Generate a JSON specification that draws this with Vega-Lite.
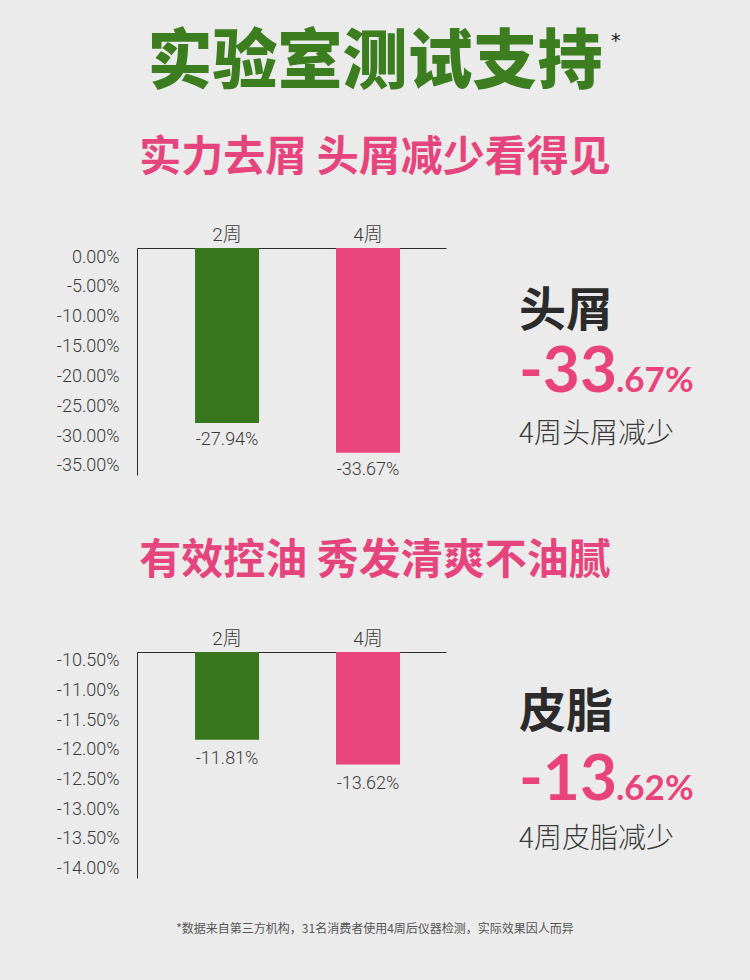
{
  "$schema": "https://vega.github.io/schema/vega-lite/v6.json",
  "background": "#ebebeb",
  "padding": 0,
  "spacing": 0,
  "config": {"view": {"stroke": null}, "axis": {"grid": false}},
  "datasets": {
    "dandruff": [
      {"week": "2周", "drawn": -0.2782, "reported": -0.2794},
      {"week": "4周", "drawn": -0.3280, "reported": -0.3367}
    ],
    "sebum": [
      {"week": "2周", "drawn": -0.1183, "reported": -0.1181},
      {"week": "4周", "drawn": -0.1225, "reported": -0.1362}
    ]
  },
  "vconcat": [
    {
      "width": 613, "height": 126,
      "data": {"values": [{"headline": "实验室测试支持", "star": "*"}]},
      "layer": [
        {"mark": {"type": "text", "font": "Noto Sans CJK SC", "fontWeight": 900, "fontSize": 65, "color": "#3b7d1f", "align": "center", "baseline": "middle"},
         "encoding": {"text": {"field": "headline"},
           "x": {"datum": 0.3883, "type": "quantitative", "scale": {"domain": [0, 1]}, "axis": null}}},
        {"mark": {"type": "text", "font": "DejaVu Sans", "fontSize": 20, "color": "#222222", "align": "center", "baseline": "middle", "dy": -22},
         "encoding": {"text": {"field": "star"},
           "x": {"datum": 0.781, "type": "quantitative", "scale": {"domain": [0, 1]}, "axis": null}}}
      ]
    },
    {
      "width": 613, "height": 64,
      "data": {"values": [{"subtitle": "实力去屑 头屑减少看得见"}]},
      "mark": {"type": "text", "font": "Noto Sans CJK SC", "fontWeight": 700, "fontSize": 42, "color": "#e5457c", "align": "center", "baseline": "middle"},
      "encoding": {"text": {"field": "subtitle"},
        "x": {"datum": 0.3883, "type": "quantitative", "scale": {"domain": [0, 1]}, "axis": null}}
    },
    {
      "spacing": 0,
      "hconcat": [
        {
          "width": 309, "height": 227,
          "data": {"name": "dandruff"},
          "encoding": {
            "x": {"field": "week", "type": "nominal", "sort": ["2周", "4周"],
                  "scale": {"domain": ["2周", "4周"], "paddingInner": 0.546, "paddingOuter": 0.369, "align": 0.558},
                  "axis": {"orient": "top", "title": null, "ticks": false, "tickSize": 0, "labelPadding": 4, "labelAngle": 0,
                           "labelFont": "Roboto, Noto Sans CJK SC", "labelFontWeight": 300, "labelFontSize": 19, "labelColor": "#3a3a3a",
                           "domainColor": "#2b2b2b", "domainWidth": 1, "minExtent": 58, "maxExtent": 58}},
            "y": {"field": "drawn", "type": "quantitative",
                  "scale": {"domain": [-0.3654, 0.0154], "nice": false, "zero": false},
                  "axis": {"title": null, "values": [0, -0.05, -0.1, -0.15, -0.2, -0.25, -0.3, -0.35],
                           "labelExpr": "replace(format(datum.value, '.2%'), '\u2212', '-')",
                           "ticks": false, "tickSize": 0, "labelPadding": 18,
                           "labelFont": "Roboto", "labelFontWeight": 300, "labelFontSize": 18, "labelColor": "#3a3a3a",
                           "domainColor": "#2b2b2b", "domainWidth": 1, "minExtent": 137, "maxExtent": 137}}
          },
          "layer": [
            {"mark": {"type": "bar"},
             "encoding": {
               "y2": {"datum": 0.0154},
               "color": {"field": "week", "type": "nominal", "scale": {"domain": ["2周", "4周"], "range": ["#38761d", "#e8457c"]}, "legend": null}
             }},
            {"mark": {"type": "text", "baseline": "top", "align": "center", "dy": 8, "font": "Roboto", "fontWeight": 300, "fontSize": 18, "color": "#3a3a3a",
                      "text": {"expr": "replace(format(datum.reported, '.2%'), '\u2212', '-')"}}}
          ]
        },
        {
          "width": 303, "height": 227,
          "data": {"values": [{"metric": "头屑", "whole": "-33", "fraction": ".67%", "note": "4周头屑减少"}]},
          "layer": [
            {"mark": {"type": "text", "align": "left", "baseline": "middle", "font": "Noto Sans CJK SC", "fontWeight": 700, "fontSize": 47, "color": "#2b2b2b"},
             "encoding": {"text": {"field": "metric"},
               "x": {"datum": 0.2409, "type": "quantitative", "scale": {"domain": [0, 1]}, "axis": null},
               "y": {"datum": 0.2815, "type": "quantitative", "scale": {"domain": [0, 1], "reverse": true}, "axis": null}}},
            {"mark": {"type": "text", "align": "left", "baseline": "alphabetic", "font": "Lato", "fontWeight": 700, "fontSize": 64, "color": "#e8437b"},
             "encoding": {"text": {"field": "whole"},
               "x": {"datum": 0.2409, "type": "quantitative", "scale": {"domain": [0, 1]}, "axis": null},
               "y": {"datum": 0.633, "type": "quantitative", "scale": {"domain": [0, 1], "reverse": true}, "axis": null}}},
            {"mark": {"type": "text", "align": "left", "baseline": "alphabetic", "font": "Lato", "fontWeight": 700, "fontSize": 35, "color": "#e8437b"},
             "encoding": {"text": {"field": "fraction"},
               "x": {"datum": 0.561, "type": "quantitative", "scale": {"domain": [0, 1]}, "axis": null},
               "y": {"datum": 0.633, "type": "quantitative", "scale": {"domain": [0, 1], "reverse": true}, "axis": null}}},
            {"mark": {"type": "text", "align": "left", "baseline": "middle", "font": "Noto Sans CJK SC", "fontWeight": 300, "fontSize": 28, "color": "#3a3a3a"},
             "encoding": {"text": {"field": "note"},
               "x": {"datum": 0.2409, "type": "quantitative", "scale": {"domain": [0, 1]}, "axis": null},
               "y": {"datum": 0.8247, "type": "quantitative", "scale": {"domain": [0, 1], "reverse": true}, "axis": null}}}
          ]
        }
      ]
    },
    {
      "width": 613, "height": 147,
      "data": {"values": [{"subtitle": "有效控油 秀发清爽不油腻"}]},
      "mark": {"type": "text", "font": "Noto Sans CJK SC", "fontWeight": 700, "fontSize": 42, "color": "#e5457c", "align": "center", "baseline": "middle", "dy": 8},
      "encoding": {"text": {"field": "subtitle"},
        "x": {"datum": 0.3883, "type": "quantitative", "scale": {"domain": [0, 1]}, "axis": null}}
    },
    {
      "spacing": 0,
      "hconcat": [
        {
          "width": 309, "height": 226,
          "data": {"name": "sebum"},
          "encoding": {
            "x": {"field": "week", "type": "nominal", "sort": ["2周", "4周"],
                  "scale": {"domain": ["2周", "4周"], "paddingInner": 0.546, "paddingOuter": 0.369, "align": 0.558},
                  "axis": {"orient": "top", "title": null, "ticks": false, "tickSize": 0, "labelPadding": 4, "labelAngle": 0,
                           "labelFont": "Roboto, Noto Sans CJK SC", "labelFontWeight": 300, "labelFontSize": 19, "labelColor": "#3a3a3a",
                           "domainColor": "#2b2b2b", "domainWidth": 1, "minExtent": 26, "maxExtent": 26}},
            "y": {"field": "drawn", "type": "quantitative",
                  "scale": {"domain": [-0.14163, -0.10352], "nice": false, "zero": false},
                  "axis": {"title": null, "values": [-0.105, -0.11, -0.115, -0.12, -0.125, -0.13, -0.135, -0.14],
                           "labelExpr": "replace(format(datum.value, '.2%'), '\u2212', '-')",
                           "ticks": false, "tickSize": 0, "labelPadding": 18,
                           "labelFont": "Roboto", "labelFontWeight": 300, "labelFontSize": 18, "labelColor": "#3a3a3a",
                           "domainColor": "#2b2b2b", "domainWidth": 1, "minExtent": 137, "maxExtent": 137}}
          },
          "layer": [
            {"mark": {"type": "bar"},
             "encoding": {
               "y2": {"datum": -0.10352},
               "color": {"field": "week", "type": "nominal", "scale": {"domain": ["2周", "4周"], "range": ["#38761d", "#e8457c"]}, "legend": null}
             }},
            {"mark": {"type": "text", "baseline": "top", "align": "center", "dy": 10, "font": "Roboto", "fontWeight": 300, "fontSize": 18, "color": "#3a3a3a",
                      "text": {"expr": "replace(format(datum.reported, '.2%'), '\u2212', '-')"}}}
          ]
        },
        {
          "width": 303, "height": 226,
          "data": {"values": [{"metric": "皮脂", "whole": "-13", "fraction": ".62%", "note": "4周皮脂减少"}]},
          "layer": [
            {"mark": {"type": "text", "align": "left", "baseline": "middle", "font": "Noto Sans CJK SC", "fontWeight": 700, "fontSize": 47, "color": "#2b2b2b"},
             "encoding": {"text": {"field": "metric"},
               "x": {"datum": 0.2409, "type": "quantitative", "scale": {"domain": [0, 1]}, "axis": null},
               "y": {"datum": 0.2695, "type": "quantitative", "scale": {"domain": [0, 1], "reverse": true}, "axis": null}}},
            {"mark": {"type": "text", "align": "left", "baseline": "alphabetic", "font": "Lato", "fontWeight": 700, "fontSize": 64, "color": "#e8437b"},
             "encoding": {"text": {"field": "whole"},
               "x": {"datum": 0.2409, "type": "quantitative", "scale": {"domain": [0, 1]}, "axis": null},
               "y": {"datum": 0.6549, "type": "quantitative", "scale": {"domain": [0, 1], "reverse": true}, "axis": null}}},
            {"mark": {"type": "text", "align": "left", "baseline": "alphabetic", "font": "Lato", "fontWeight": 700, "fontSize": 35, "color": "#e8437b"},
             "encoding": {"text": {"field": "fraction"},
               "x": {"datum": 0.561, "type": "quantitative", "scale": {"domain": [0, 1]}, "axis": null},
               "y": {"datum": 0.6549, "type": "quantitative", "scale": {"domain": [0, 1], "reverse": true}, "axis": null}}},
            {"mark": {"type": "text", "align": "left", "baseline": "middle", "font": "Noto Sans CJK SC", "fontWeight": 300, "fontSize": 28, "color": "#3a3a3a"},
             "encoding": {"text": {"field": "note"},
               "x": {"datum": 0.2409, "type": "quantitative", "scale": {"domain": [0, 1]}, "axis": null},
               "y": {"datum": 0.8327, "type": "quantitative", "scale": {"domain": [0, 1], "reverse": true}, "axis": null}}}
          ]
        }
      ]
    },
    {
      "width": 613, "height": 102,
      "data": {"values": [{"footnote": "*数据来自第三方机构，31名消费者使用4周后仪器检测，实际效果因人而异"}]},
      "mark": {"type": "text", "font": "Noto Sans CJK SC", "fontWeight": 400, "fontSize": 12, "color": "#555555", "align": "center", "baseline": "middle"},
      "encoding": {"text": {"field": "footnote"},
        "x": {"datum": 0.3883, "type": "quantitative", "scale": {"domain": [0, 1]}, "axis": null}}
    }
  ]
}
